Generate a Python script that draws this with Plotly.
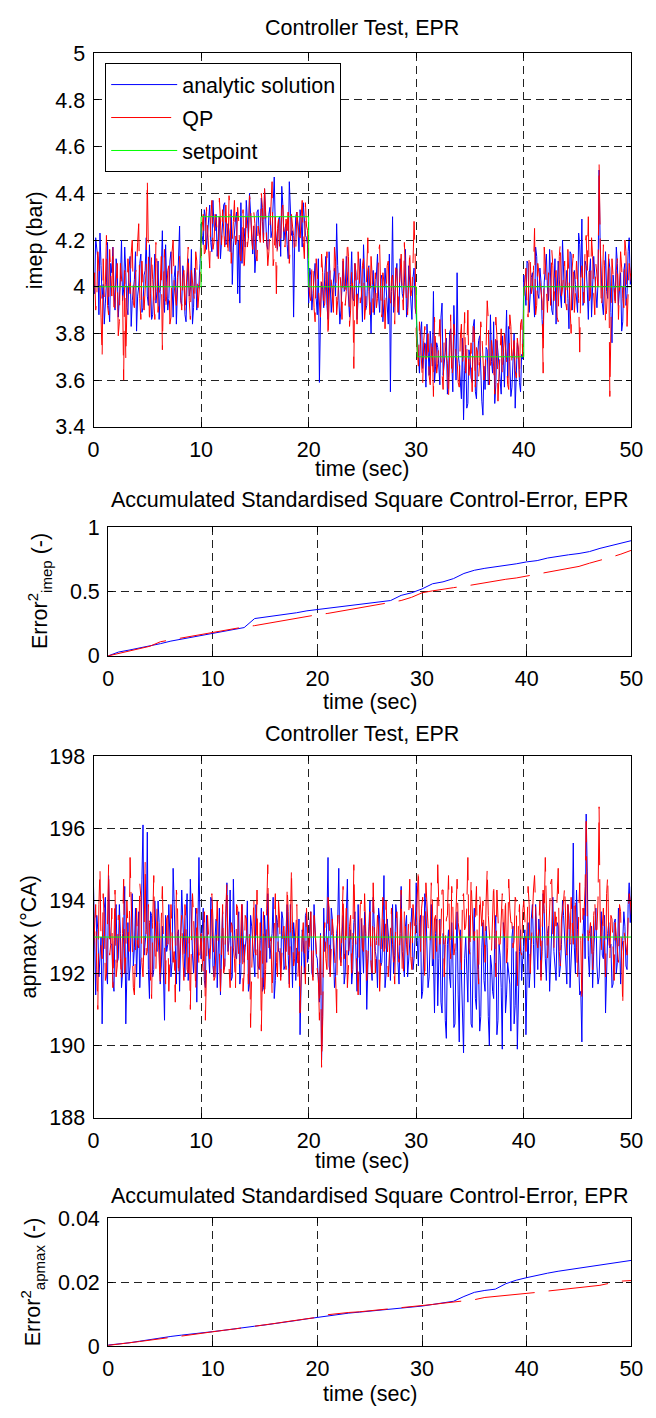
import numpy as np
import plotly.graph_objects as go

W, H = 656, 1418

# ---------------- data ----------------
# samples every 0.1 s: "even" samples at 0.0, 0.2, ... 50.0 and "odd" samples at 0.1, 0.3, ... 49.9
time_even = np.round(np.arange(251) * 0.2, 1)
time_odd = np.round(np.arange(250) * 0.2 + 0.1, 1)

imep_setpoint_t = [0, 10, 10, 20, 20, 30, 30.1, 40, 40, 50]
imep_setpoint = [4.0, 4.0, 4.3, 4.3, 4.0, 4.0, 3.7, 3.7, 4.0, 4.0]

imep_analytic_even = [
    4.05, 4.21, 4.12, 4.23, 3.95, 3.84, 4.02, 3.92, 4.10, 4.17,
    3.90, 4.08, 3.97, 4.20, 3.99, 4.06, 3.88, 4.13, 3.94, 4.03,
    3.81, 4.00, 4.14, 3.91, 4.07, 3.96, 4.18, 3.86, 4.04, 3.93,
    4.11, 3.98, 4.24, 3.89, 4.02, 3.95, 4.15, 3.87, 4.09, 3.97,
    4.26, 3.92, 4.05, 3.85, 4.12, 3.99, 3.84, 4.08, 3.90, 4.01,
    4.27, 4.18, 4.30, 4.22, 4.35, 4.15, 4.26, 4.31, 4.20, 4.12,
    4.28, 4.36, 4.19, 4.24, 4.33, 4.17, 4.29, 3.97, 3.93, 4.10,
    4.25, 4.37, 4.21, 4.30, 4.14, 4.06, 4.32, 4.23, 4.38, 4.19,
    4.27, 4.16, 4.34, 4.24, 4.47, 4.20, 4.29, 4.13, 4.35, 4.25,
    4.18, 4.45, 4.22, 3.87, 4.30, 4.26, 4.33, 4.17, 4.28, 4.21,
    3.93, 4.05, 3.97, 4.10, 3.88, 3.59, 4.02, 3.91, 4.13, 3.86,
    4.04, 3.96, 4.08, 4.27, 3.95, 3.90, 4.11, 3.99, 4.03, 3.87,
    4.15, 3.94, 4.06, 3.98, 4.12, 3.85, 4.01, 3.92, 4.09, 3.80,
    4.07, 3.97, 4.14, 3.89, 4.05, 3.93, 4.00, 3.84, 3.55, 4.30,
    3.96, 4.10, 3.88, 4.04, 3.95, 4.16, 3.91, 4.02, 3.86, 4.08,
    3.88, 3.72, 3.80, 3.65, 3.76, 3.84, 3.62, 3.71, 3.98, 3.66,
    3.74, 3.58, 3.93, 3.69, 3.78, 3.61, 3.82, 3.55, 3.73, 4.06,
    3.67, 3.52, 3.43, 3.75, 3.50, 3.70, 3.59, 3.86, 3.52, 3.77,
    3.64, 3.45, 3.56, 3.73, 3.60, 3.68, 3.85, 3.58, 3.72, 3.62,
    3.79, 3.57, 3.90, 3.83, 3.53, 3.66, 3.48, 3.76, 3.59, 3.71,
    4.05, 3.92, 4.10, 3.98, 4.06, 3.87, 4.13, 3.95, 4.02, 3.78,
    4.08, 3.99, 4.16, 3.90, 4.04, 3.84, 4.11, 3.96, 4.20, 3.93,
    4.07, 3.82, 4.14, 3.97, 4.01, 3.89, 4.18, 4.29, 3.94, 4.09,
    3.86, 4.12, 3.98, 4.05, 3.91, 4.50, 4.03, 3.88, 4.15, 3.95,
    4.08, 3.76, 4.00, 4.17, 3.92, 4.06, 3.85, 4.10, 3.97, 4.21, 4.04,
]
imep_analytic_odd = [
    3.97, 4.16, 3.88, 4.09, 4.01, 3.93, 4.19, 3.85, 4.06, 3.99,
    4.12, 3.87, 4.03, 3.94, 4.17, 3.91, 4.08, 3.83, 4.00, 4.15,
    3.96, 4.10, 3.89, 4.05, 4.21, 3.92, 4.02, 3.88, 4.14, 3.98,
    3.86, 4.07, 3.95, 4.18, 3.90, 4.11, 3.97, 4.04, 3.84, 4.13,
    3.94, 4.09, 3.88, 4.02, 3.96, 4.16, 3.91, 4.06, 3.99, 4.10,
    4.22, 4.33, 4.16, 4.28, 4.19, 4.37, 4.24, 4.13, 4.30, 4.21,
    4.35, 4.18, 4.27, 4.15, 4.01, 4.26, 4.32, 4.20, 4.36, 4.23,
    4.17, 4.29, 4.40, 4.19, 4.26, 4.14, 4.33, 4.22, 4.28, 4.42,
    4.18, 4.31, 4.21, 4.37, 4.25, 4.16, 4.30, 4.43, 4.20, 4.27,
    4.12, 4.34, 4.24, 4.19, 4.32, 4.15, 4.29, 4.36, 4.22, 4.18,
    4.08, 3.90, 4.03, 3.95, 4.12, 3.87, 3.99, 4.06, 3.92, 4.15,
    3.89, 4.02, 3.96, 4.09, 3.84, 4.05, 3.98, 4.13, 3.91, 4.01,
    3.95, 4.10, 3.86, 4.04, 3.97, 4.18, 3.90, 4.07, 3.93, 4.00,
    3.88, 4.11, 3.96, 4.03, 3.85, 4.08, 3.94, 4.14, 3.98, 3.89,
    4.06, 3.92, 4.12, 3.97, 4.02, 3.87, 4.09, 3.95, 4.04, 3.91,
    3.78, 3.63, 3.85, 3.70, 3.57, 3.74, 3.81, 3.66, 3.59, 3.76,
    3.68, 3.87, 3.62, 3.72, 3.54, 3.80, 3.67, 3.92, 3.60, 3.71,
    3.56, 3.78, 3.64, 3.48, 3.73, 3.61, 3.83, 3.55, 3.69, 3.79,
    3.51, 3.66, 3.74, 3.58, 3.88, 3.63, 3.50, 3.77, 3.65, 3.54,
    3.71, 3.82, 3.61, 3.68, 3.57, 3.80, 3.64, 3.73, 3.55, 3.69,
    3.99, 4.11, 3.89, 4.04, 3.93, 4.17, 3.97, 4.08, 3.86, 4.02,
    4.14, 3.94, 4.06, 3.88, 4.12, 3.98, 4.03, 3.91, 4.09, 4.00,
    3.95, 4.15, 3.90, 4.07, 3.96, 4.23, 4.04, 3.92, 4.11, 3.99,
    4.06, 3.87, 4.13, 3.95, 4.02, 4.18, 3.93, 4.08, 3.98, 4.12,
    3.89, 4.05, 3.94, 4.10, 3.99, 3.81, 4.07, 3.92, 4.15, 4.01,
]

imep_qp_even = [
    3.98, 3.90, 4.15, 4.02, 3.70, 3.95, 4.22, 3.88, 4.05, 4.18,
    3.93, 4.10, 3.85, 4.03, 3.60, 3.69, 4.12, 3.97, 4.20, 3.91,
    4.08, 4.27, 3.86, 4.03, 3.99, 4.46, 3.84, 4.14, 3.92, 4.19,
    3.89, 4.01, 3.73, 4.16, 3.96, 4.09, 3.87, 4.20, 3.94, 4.04,
    4.13, 3.90, 4.07, 3.98, 4.17, 3.86, 4.02, 3.93, 4.11, 3.97,
    4.20, 4.31, 4.15, 4.26, 4.08, 4.37, 4.19, 4.29, 4.12, 4.24,
    4.33, 4.17, 4.22, 4.39, 4.10, 4.28, 4.18, 4.34, 4.14, 4.25,
    4.06, 4.30, 4.21, 4.36, 4.16, 4.27, 4.11, 4.23, 4.40, 4.19,
    4.32, 4.09, 4.26, 4.45, 4.13, 3.97, 4.29, 4.20, 4.35, 4.17,
    4.24, 4.10, 4.31, 4.22, 4.15, 4.28, 4.18, 4.37, 4.12, 4.26,
    4.02, 3.94, 4.10, 3.85, 4.06, 3.97, 4.14, 3.90, 4.03, 3.78,
    4.08, 3.96, 4.17, 3.88, 4.05, 3.99, 4.12, 3.92, 4.20, 3.83,
    4.07, 3.65, 4.01, 4.15, 3.93, 4.09, 3.86, 4.04, 3.98, 4.13,
    3.89, 4.06, 3.95, 4.18, 3.87, 4.02, 3.96, 4.11, 3.91, 4.05,
    3.84, 4.09, 3.97, 4.14, 3.90, 4.03, 3.88, 4.16, 3.99, 4.28,
    3.80, 3.66, 3.75, 3.58, 3.83, 3.70, 3.62, 3.78, 3.53, 3.74,
    3.67, 3.86, 3.60, 3.79, 3.71, 3.52, 3.88, 3.65, 3.76, 3.69,
    3.57, 3.84, 3.72, 3.63, 3.90, 3.68, 3.55, 3.81, 3.74, 3.61,
    3.85, 3.70, 3.64, 3.94, 3.58, 3.77, 3.66, 3.87, 3.51, 3.73,
    3.62, 3.80, 3.69, 3.56, 3.83, 3.71, 3.64, 3.78, 3.60, 3.86,
    3.95, 4.08, 3.87, 4.12, 4.00, 4.25, 3.92, 4.06, 3.98, 3.63,
    4.10, 3.89, 4.04, 4.16, 3.94, 4.07, 3.85, 4.19, 3.99, 4.11,
    3.90, 4.05, 3.80, 4.14, 3.97, 4.02, 3.72, 4.09, 3.93, 4.22,
    4.30, 3.96, 4.13, 3.88, 4.06, 4.53, 3.91, 4.18, 3.84, 4.04,
    3.53, 4.12, 3.98, 4.07, 3.86, 4.15, 3.95, 4.20, 3.83, 4.10, 4.02,
]
imep_qp_odd = [
    4.06, 3.94, 4.09, 3.87, 4.12, 4.01, 3.92, 4.16, 3.96, 3.88,
    4.05, 3.79, 4.10, 3.98, 4.07, 3.89, 4.02, 4.14, 3.93, 4.06,
    4.19, 3.95, 4.11, 3.90, 4.08, 4.22, 3.97, 4.03, 3.86, 4.10,
    3.95, 4.13, 3.99, 3.90, 4.07, 3.84, 4.15, 4.00, 3.92, 4.09,
    3.96, 4.04, 3.88, 4.12, 3.94, 4.07, 3.99, 4.15, 3.91, 4.03,
    4.26, 4.14, 4.34, 4.21, 4.29, 4.16, 4.31, 4.23, 4.38, 4.18,
    4.27, 4.35, 4.13, 4.30, 4.22, 4.37, 4.20, 4.28, 4.11, 4.33,
    4.24, 4.17, 4.39, 4.21, 4.32, 4.14, 4.26, 4.19, 4.34, 4.42,
    4.23, 4.15, 4.38, 4.09, 4.30, 4.25, 4.16, 4.33, 4.21, 4.29,
    4.35, 4.18, 4.26, 4.14, 4.32, 4.22, 4.30, 4.19, 4.36, 4.24,
    3.96, 4.09, 3.91, 4.12, 4.00, 3.87, 4.06, 3.93, 4.15, 3.97,
    4.03, 3.89, 4.11, 3.94, 4.08, 3.86, 4.02, 3.98, 4.13, 3.90,
    3.99, 4.10, 3.84, 4.07, 3.96, 4.12, 3.92, 4.21, 3.88, 4.05,
    4.00, 3.91, 4.15, 3.97, 4.06, 3.82, 4.09, 3.95, 4.03, 3.93,
    4.11, 3.89, 4.07, 3.98, 4.19, 3.92, 4.04, 3.96, 4.10, 4.14,
    3.72, 3.85, 3.64, 3.77, 3.69, 3.80, 3.58, 3.73, 3.87, 3.63,
    3.79, 3.70, 3.56, 3.82, 3.67, 3.75, 3.61, 3.84, 3.71, 3.59,
    3.78, 3.66, 3.89, 3.70, 3.62, 3.76, 3.83, 3.57, 3.72, 3.68,
    3.80, 3.60, 3.75, 3.86, 3.65, 3.71, 3.54, 3.79, 3.63, 3.82,
    3.69, 3.74, 3.58, 3.88, 3.66, 3.77, 3.61, 3.73, 3.84, 3.70,
    4.03, 3.91, 4.14, 3.97, 4.07, 3.88, 4.10, 4.01, 3.94, 4.17,
    3.99, 4.06, 3.92, 4.09, 4.02, 3.87, 4.13, 3.96, 4.05, 3.93,
    4.16, 3.98, 4.08, 3.89, 4.11, 3.95, 4.04, 3.99, 4.18, 4.07,
    3.94, 4.21, 3.97, 4.10, 4.00, 4.28, 3.96, 4.09, 3.90, 4.14,
    3.78, 4.05, 3.93, 4.12, 3.99, 4.08, 3.91, 4.15, 3.97, 4.06,
]

apmax_setpoint_t = [0, 50]
apmax_setpoint = [193.0, 193.0]

apmax_analytic_even = [
    194.4, 191.4, 193.2, 192.5, 190.6, 193.8, 192.0, 194.7, 192.8, 191.8,
    193.5, 192.3, 193.9, 191.6, 192.9, 190.6, 193.4, 192.2, 194.2, 192.7,
    191.9, 193.7, 192.4, 196.1, 192.8, 195.9, 191.3, 193.6, 192.1, 193.0,
    194.0, 191.7, 193.3, 190.7, 192.6, 193.9, 191.9, 194.9, 192.3, 193.1,
    191.5, 194.3, 192.7, 193.5, 191.8, 194.6, 192.5, 193.2, 191.2, 195.2,
    192.4, 193.8, 191.6, 193.1, 192.0, 194.0, 191.9, 193.5, 192.6, 191.4,
    193.7, 192.2, 194.5, 192.9, 191.8, 194.6, 192.5, 193.3, 191.7, 193.9,
    192.3, 193.0, 191.5, 193.6, 192.7, 191.9, 193.4, 192.1, 193.8, 191.6,
    192.8, 194.2, 192.4, 193.1, 191.3, 193.6, 192.6, 191.9, 193.5, 192.2,
    193.9, 191.7, 192.9, 193.4, 191.8, 192.5, 190.3, 193.2, 192.0, 193.7,
    192.6, 193.7, 191.9, 193.2, 192.4, 191.2, 189.6, 193.8, 192.7, 195.2,
    192.0, 193.5, 191.6, 193.1, 194.9, 192.3, 193.6, 192.0, 194.6, 192.8,
    191.7, 193.4, 192.5, 193.9, 191.4, 192.9, 193.7, 191.0, 193.3, 192.2,
    194.1, 192.6, 191.6, 193.5, 192.3, 194.7, 192.0, 193.2, 191.8, 193.9,
    192.5, 193.6, 191.7, 194.4, 192.1, 193.3, 191.9, 192.8, 193.8, 192.4,
    194.5, 192.2, 193.6, 191.5, 194.2, 192.7, 191.9, 193.9, 192.4, 193.1,
    191.1, 193.5, 190.9, 192.8, 190.2, 193.2, 191.6, 192.5, 190.6, 193.7,
    190.1, 192.3, 189.8, 193.0, 191.2, 192.6, 190.5, 193.8, 191.0, 192.1,
    190.8, 193.4, 191.5, 192.7, 190.0, 192.2, 191.3, 193.6, 190.7, 192.5,
    189.9, 193.1, 191.4, 192.0, 190.4, 193.3, 191.1, 189.9, 192.6, 191.8,
    192.8, 190.3, 193.4, 192.1, 193.9, 191.6, 192.7, 193.5, 191.9, 194.2,
    192.4, 193.1, 191.5, 193.7, 192.6, 191.8, 193.3, 192.2, 194.0, 192.9,
    191.7, 193.6, 192.3, 195.6, 192.0, 193.2, 191.4, 190.1, 193.8, 196.4,
    192.5, 193.0, 191.6, 193.5, 192.2, 191.9, 193.7, 192.4, 190.9, 193.1,
    192.7, 191.6, 193.4, 192.0, 193.8, 191.7, 192.9, 193.3, 192.1, 194.5, 194.4,
]
apmax_analytic_odd = [
    192.3, 193.6, 191.9, 193.0, 192.6, 194.1, 191.7, 193.3, 192.8, 191.5,
    193.9, 192.4, 193.1, 192.0, 194.4, 192.7, 191.8, 193.5, 192.2, 193.8,
    192.9, 191.6, 194.6, 192.5, 193.2, 192.1, 193.7, 191.9, 194.0, 192.6,
    193.4, 192.2, 191.4, 193.6, 192.8, 193.0, 192.3, 193.9, 191.7, 193.2,
    192.6, 193.5, 191.9, 194.2, 192.4, 193.1, 192.0, 193.8, 192.7, 193.3,
    193.1, 191.8, 193.6, 192.5, 194.1, 192.2, 193.0, 191.6, 193.8, 192.8,
    192.1, 193.4, 192.6, 194.3, 191.9, 193.2, 192.4, 193.7, 192.0, 193.1,
    192.7, 194.0, 191.7, 193.3, 192.5, 193.9, 192.2, 192.9, 191.5, 193.6,
    192.3, 193.0, 192.8, 194.1, 191.8, 193.4, 192.6, 193.7, 192.1, 193.2,
    192.5, 193.9, 191.6, 193.0, 192.7, 193.5, 191.4, 192.9, 193.6, 192.3,
    193.3, 192.0, 193.9, 192.5, 191.8, 193.1, 190.8, 192.6, 193.5, 192.2,
    193.8, 192.7, 191.9, 193.4, 192.4, 193.0, 191.7, 193.6, 192.5, 193.2,
    192.1, 193.7, 191.5, 192.9, 193.5, 192.0, 193.1, 192.6, 194.0, 191.8,
    193.3, 192.4, 193.8, 192.2, 193.0, 191.6, 193.5, 192.7, 193.2, 192.0,
    193.9, 192.3, 193.1, 192.6, 191.9, 193.6, 192.4, 193.3, 192.1, 193.0,
    192.9, 193.4, 191.3, 192.7, 193.8, 191.6, 193.0, 192.2, 190.9, 193.5,
    192.4, 191.2, 193.1, 190.7, 192.8, 191.9, 193.4, 190.5, 192.6, 191.4,
    193.2, 190.9, 192.4, 191.7, 193.6, 190.6, 192.9, 191.3, 193.0, 190.4,
    192.7, 191.8, 193.3, 190.8, 192.5, 191.5, 193.1, 190.3, 192.8, 191.6,
    193.4, 190.9, 192.3, 191.7, 193.0, 190.6, 192.6, 191.9, 193.2, 192.4,
    193.2, 192.4, 191.6, 193.5, 192.8, 193.9, 192.1, 193.0, 192.6, 193.7,
    191.8, 193.3, 192.5, 194.1, 192.0, 193.4, 191.9, 192.8, 193.6, 192.3,
    193.9, 191.6, 193.1, 192.7, 194.3, 192.2, 191.5, 193.0, 192.4, 194.8,
    191.9, 193.3, 192.6, 193.8, 191.7, 193.1, 192.5, 193.6, 192.0, 193.4,
    192.8, 191.7, 193.5, 192.3, 193.0, 192.6, 193.7, 192.2, 193.9, 193.4,
]

apmax_qp_even = [
    192.6, 193.9, 191.0, 194.9, 192.4, 193.5, 192.0, 195.0, 192.8, 191.6,
    194.3, 192.2, 193.6, 191.8, 194.6, 192.5, 193.1, 195.2, 192.3, 191.4,
    193.8, 192.7, 194.1, 191.9, 195.1, 192.6, 193.4, 191.3, 194.7, 192.1,
    193.2, 191.7, 194.4, 192.8, 193.5, 191.5, 193.9, 192.3, 191.2, 194.0,
    192.5, 193.6, 191.8, 193.3, 192.0, 191.0, 194.2, 192.7, 193.8, 192.2,
    193.1, 192.0, 190.7, 193.6, 192.4, 194.2, 191.8, 193.3, 192.6, 191.5,
    193.9, 192.2, 194.5, 191.9, 193.4, 192.7, 191.6, 193.8, 192.3, 194.1,
    192.0, 193.5, 191.7, 190.5, 193.2, 192.6, 194.3, 191.9, 190.4, 193.7,
    192.1, 195.0, 192.8, 191.4, 193.6, 192.3, 194.0, 191.8, 193.1, 192.5,
    194.4, 191.6, 194.9, 192.2, 193.4, 191.9, 190.9, 193.0, 192.4, 193.8,
    192.5, 193.7, 191.8, 193.2, 192.1, 190.7, 189.4, 193.0, 192.4, 194.1,
    191.9, 193.5, 192.6, 190.9, 193.8, 192.2, 194.4, 192.8, 191.6, 193.3,
    192.0, 195.0, 192.5, 191.4, 193.9, 192.7, 194.2, 191.8, 193.1, 192.3,
    194.5, 192.0, 193.6, 191.5, 193.2, 192.6, 194.0, 191.9, 193.4, 192.8,
    191.7, 193.7, 192.3, 194.3, 191.9, 193.1, 192.5, 194.6, 192.1, 193.5,
    193.4, 194.9, 192.6, 194.1, 191.8, 193.7, 192.9, 194.5, 192.2, 193.6,
    195.0, 192.8, 194.3, 191.9, 193.5, 194.7, 192.4, 193.9, 192.7, 194.6,
    193.1, 192.0, 194.2, 193.3, 195.2, 192.5, 193.8, 192.9, 194.4, 191.7,
    193.6, 194.0, 192.3, 194.9, 193.2, 192.6, 194.5, 191.9, 193.7, 192.8,
    194.2, 193.0, 192.1, 194.6, 193.4, 192.7, 194.1, 191.6, 193.9, 192.5,
    194.0, 192.6, 194.4, 192.0, 193.8, 194.7, 192.9, 193.5, 191.8, 194.3,
    195.2, 192.4, 193.9, 194.6, 192.7, 193.3, 194.9, 192.2, 193.7, 194.4,
    192.5, 193.1, 194.1, 192.8, 193.9, 191.9, 194.5, 191.2, 193.6, 196.2,
    192.9, 193.4, 192.1, 194.0, 193.2, 196.6, 192.6, 193.8, 191.9, 194.7,
    192.4, 193.5, 191.8, 193.1, 192.3, 193.7, 191.1, 193.0, 192.5, 194.2, 193.6,
]
apmax_qp_odd = [
    193.4, 192.1, 193.9, 192.7, 194.2, 191.8, 193.3, 192.5, 193.8, 192.9,
    191.9, 193.6, 192.4, 193.1, 192.0, 194.0, 192.6, 193.7, 191.6, 193.2,
    192.8, 194.5, 192.3, 193.0, 192.5, 193.9, 191.8, 193.4, 192.7, 193.8,
    192.2, 193.5, 192.9, 191.7, 193.6, 192.4, 193.1, 192.6, 194.3, 191.9,
    193.3, 192.5, 193.9, 192.1, 193.0, 192.8, 193.6, 191.5, 193.2, 192.6,
    192.4, 193.7, 192.1, 193.0, 192.8, 193.5, 191.9, 194.0, 192.6, 193.2,
    192.0, 193.8, 192.7, 191.6, 193.3, 192.4, 193.9, 192.2, 193.1, 191.5,
    193.6, 192.8, 193.2, 192.0, 194.1, 192.5, 191.8, 193.4, 192.7, 191.3,
    193.8, 192.6, 193.0, 192.3, 194.2, 191.9, 193.5, 192.7, 193.3, 192.1,
    193.7, 192.9, 193.2, 192.4, 193.9, 192.6, 192.0, 193.4, 191.7, 193.1,
    193.0, 192.3, 193.6, 192.7, 191.9, 193.2, 190.6, 193.4, 192.1, 193.8,
    192.5, 193.1, 192.0, 193.7, 192.9, 193.3, 192.4, 193.8, 192.2, 193.6,
    192.8, 193.4, 192.1, 193.0, 194.0, 192.6, 193.3, 192.4, 193.7, 192.0,
    193.5, 192.9, 193.2, 192.3, 194.1, 192.7, 193.0, 192.5, 193.8, 192.2,
    193.4, 192.6, 193.1, 192.0, 193.7, 192.8, 193.3, 192.4, 193.9, 193.0,
    194.2, 193.1, 193.8, 192.7, 194.5, 193.3, 192.9, 194.0, 193.5, 192.6,
    193.9, 193.2, 194.3, 192.8, 193.6, 193.0, 194.4, 192.5, 193.7, 193.4,
    192.9, 194.1, 193.2, 193.8, 192.7, 194.6, 193.0, 193.5, 192.4, 194.2,
    193.3, 192.9, 194.0, 193.6, 192.6, 193.9, 193.1, 194.3, 192.8, 193.5,
    193.2, 194.1, 192.7, 193.8, 193.4, 192.9, 194.0, 193.3, 192.6, 193.7,
    193.5, 193.2, 193.9, 192.8, 194.3, 193.4, 192.7, 194.0, 193.1, 193.6,
    193.8, 193.0, 194.5, 192.9, 193.7, 194.2, 192.6, 193.5, 194.0, 193.2,
    193.9, 192.8, 193.4, 194.1, 192.7, 193.6, 192.9, 193.8, 194.4, 193.5,
    193.1, 192.8, 193.6, 193.2, 194.0, 193.5, 193.3, 192.9, 194.2, 193.0,
    193.6, 192.7, 193.4, 192.6, 193.9, 192.4, 193.2, 192.8, 193.5, 194.0,
]

acc_t = list(range(51))
acc_imep_analytic = [
    0.000, 0.030, 0.045, 0.060, 0.075, 0.095, 0.115, 0.130, 0.145, 0.160,
    0.170, 0.190, 0.205, 0.220, 0.290, 0.300, 0.310, 0.320, 0.335, 0.350,
    0.360, 0.370, 0.380, 0.395, 0.400, 0.410, 0.420, 0.430, 0.470, 0.490,
    0.520, 0.560, 0.575, 0.600, 0.640, 0.665, 0.680, 0.690, 0.700, 0.715,
    0.730, 0.740, 0.760, 0.775, 0.785, 0.795, 0.810, 0.835, 0.855, 0.875, 0.895,
]
acc_imep_qp = [
    0.000, 0.020, 0.035, 0.055, 0.075, 0.110, 0.125, 0.140, 0.155, 0.165,
    0.180, 0.195, 0.210, 0.225, 0.235, 0.250, 0.265, 0.280, 0.295, 0.310,
    0.320, 0.330, 0.345, 0.355, 0.370, 0.390, 0.405, 0.420, 0.430, 0.455,
    0.490, 0.505, 0.520, 0.530, 0.540, 0.555, 0.570, 0.580, 0.595, 0.605,
    0.620, 0.630, 0.645, 0.660, 0.675, 0.695, 0.720, 0.740, 0.765, 0.790, 0.820,
]
acc_apmax_analytic = [
    0.0003, 0.0006, 0.0010, 0.0015, 0.0020, 0.0027, 0.0030, 0.0034, 0.0037, 0.0041,
    0.0045, 0.0049, 0.0054, 0.0058, 0.0062, 0.0066, 0.0070, 0.0075, 0.0080, 0.0085,
    0.0090, 0.0095, 0.0099, 0.0103, 0.0106, 0.0109, 0.0112, 0.0115, 0.0118, 0.0121,
    0.0125, 0.0130, 0.0134, 0.0140, 0.0155, 0.0168, 0.0174, 0.0178, 0.0195, 0.0206,
    0.0214, 0.0222, 0.0228, 0.0234, 0.0239, 0.0244, 0.0249, 0.0254, 0.0259, 0.0264, 0.0268,
]
acc_apmax_qp = [
    0.0002, 0.0005, 0.0010, 0.0014, 0.0019, 0.0024, 0.0027, 0.0031, 0.0036, 0.0041,
    0.0045, 0.0049, 0.0053, 0.0057, 0.0061, 0.0066, 0.0071, 0.0076, 0.0080, 0.0085,
    0.0090, 0.0098, 0.0102, 0.0105, 0.0107, 0.0110, 0.0113, 0.0116, 0.0119, 0.0122,
    0.0126, 0.0130, 0.0134, 0.0137, 0.0141, 0.0145, 0.0152, 0.0155, 0.0157, 0.0160,
    0.0165, 0.0168, 0.0172, 0.0176, 0.0178, 0.0183, 0.0186, 0.0190, 0.0197, 0.0203, 0.0205,
]

x_ticks = [0, 10, 20, 30, 40, 50]
imep_ticks = [3.4, 3.6, 3.8, 4.0, 4.2, 4.4, 4.6, 4.8, 5.0]
imep_ticktext = ["3.4", "3.6", "3.8", "4", "4.2", "4.4", "4.6", "4.8", "5"]
acc_imep_ticks = [0, 0.5, 1]
acc_imep_ticktext = ["0", "0.5", "1"]
apmax_ticks = [188, 190, 192, 194, 196, 198]
acc_apmax_ticks = [0, 0.02, 0.04]
acc_apmax_ticktext = ["0", "0.02", "0.04"]


def merge(even, odd):
    """interleave the even (0.0, 0.2, ...) and odd (0.1, 0.3, ...) samples"""
    out = np.empty(len(even) + len(odd))
    out[0::2] = even
    out[1::2] = odd
    return out


time = merge(time_even, time_odd)
imep_analytic = merge(imep_analytic_even, imep_analytic_odd)
imep_qp = merge(imep_qp_even, imep_qp_odd)
apmax_analytic = merge(apmax_analytic_even, apmax_analytic_odd)
apmax_qp = merge(apmax_qp_even, apmax_qp_odd)

# ---------------- style ----------------
FONT = "Liberation Sans, Arial, Helvetica, sans-serif"
FS = 21.5
BLUE, RED, GREEN = "#0000FF", "#FF0000", "#00FF00"
RED_DASH = "60px,14px"


def py(p):
    return 1 - p / H


def px(p):
    return p / W


fig = go.Figure()

# subplot 1 : imep
fig.add_trace(go.Scatter(x=time, y=imep_analytic, mode="lines", name="analytic solution",
                         legendgroup="a", line=dict(color=BLUE, width=1), xaxis="x", yaxis="y"))
fig.add_trace(go.Scatter(x=time, y=imep_qp, mode="lines", name="QP", legendgroup="b",
                         line=dict(color=RED, width=1, dash=RED_DASH), xaxis="x", yaxis="y"))
fig.add_trace(go.Scatter(x=imep_setpoint_t, y=imep_setpoint, mode="lines", name="setpoint",
                         legendgroup="c", line=dict(color=GREEN, width=1), xaxis="x", yaxis="y"))
# subplot 2 : accumulated error imep
fig.add_trace(go.Scatter(x=acc_t, y=acc_imep_analytic, mode="lines", showlegend=False,
                         line=dict(color=BLUE, width=1), xaxis="x2", yaxis="y2"))
fig.add_trace(go.Scatter(x=acc_t, y=acc_imep_qp, mode="lines", showlegend=False,
                         line=dict(color=RED, width=1, dash=RED_DASH), xaxis="x2", yaxis="y2"))
# subplot 3 : apmax
fig.add_trace(go.Scatter(x=time, y=apmax_analytic, mode="lines", showlegend=False,
                         line=dict(color=BLUE, width=1), xaxis="x3", yaxis="y3"))
fig.add_trace(go.Scatter(x=time, y=apmax_qp, mode="lines", showlegend=False,
                         line=dict(color=RED, width=1, dash=RED_DASH), xaxis="x3", yaxis="y3"))
fig.add_trace(go.Scatter(x=apmax_setpoint_t, y=apmax_setpoint, mode="lines", showlegend=False,
                         line=dict(color=GREEN, width=1), xaxis="x3", yaxis="y3"))
# subplot 4 : accumulated error apmax
fig.add_trace(go.Scatter(x=acc_t, y=acc_apmax_analytic, mode="lines", showlegend=False,
                         line=dict(color=BLUE, width=1), xaxis="x4", yaxis="y4"))
fig.add_trace(go.Scatter(x=acc_t, y=acc_apmax_qp, mode="lines", showlegend=False,
                         line=dict(color=RED, width=1, dash=RED_DASH), xaxis="x4", yaxis="y4"))


def axis(domain, anchor, rng, tickvals, ticktext=None):
    d = dict(domain=domain, anchor=anchor, range=rng, tickmode="array", tickvals=tickvals,
             showline=True, mirror="ticks", linecolor="black", linewidth=1,
             ticks="inside", ticklen=5, tickcolor="black", tickwidth=1,
             showgrid=True, gridcolor="#222222", griddash="8px,5px", gridwidth=1,
             zeroline=False, tickfont=dict(size=FS, color="black", family=FONT),
             fixedrange=True, ticklabelstandoff=3)
    if ticktext is not None:
        d["ticktext"] = ticktext
    return d


xd_wide = [px(90), px(643)]
xd_narrow = [px(105), px(643)]

fig.update_layout(
    width=W, height=H, autosize=False,
    margin=dict(l=0, r=0, t=0, b=0),
    paper_bgcolor="white", plot_bgcolor="white",
    font=dict(family=FONT, size=FS, color="black"),
    xaxis=axis(xd_wide, "y", [0, 50], x_ticks),
    yaxis=axis([py(423), py(43)], "x", [3.4, 5.0], imep_ticks, imep_ticktext),
    xaxis2=axis(xd_narrow, "y2", [0, 50], x_ticks),
    yaxis2=axis([py(656), py(525)], "x2", [0, 1], acc_imep_ticks, acc_imep_ticktext),
    xaxis3=axis(xd_wide, "y3", [0, 50], x_ticks),
    yaxis3=axis([py(1126), py(758)], "x3", [188, 198], apmax_ticks),
    xaxis4=axis(xd_narrow, "y4", [0, 50], x_ticks),
    yaxis4=axis([py(1358), py(1228)], "x4", [0, 0.04], acc_apmax_ticks, acc_apmax_ticktext),
    legend=dict(x=px(102), y=py(53), xanchor="left", yanchor="top",
                bgcolor="white", bordercolor="black", borderwidth=1,
                font=dict(size=FS, family=FONT, color="black"),
                itemwidth=66, tracegroupgap=2, traceorder="grouped",
                entrywidth=170, entrywidthmode="pixels"),
    showlegend=True,
)

ann = []


def text(x, y, s, angle=0):
    ann.append(dict(x=px(x), y=py(y), xref="paper", yref="paper", text=s, showarrow=False,
                    xanchor="center", yanchor="middle", textangle=angle,
                    font=dict(size=FS, family=FONT, color="black")))


cx_w = (90 + 643) / 2
cx_n = (105 + 643) / 2
text(cx_w, 17, "Controller Test, EPR")
text(cx_w, 466, "time (sec)")
text(30, 233, "imep (bar)", -90)
text(cx_n, 497, "Accumulated Standardised Square Control-Error, EPR")
text(cx_n, 703, "time (sec)")
text(34, 590, "Error<sup>2</sup><sub>imep</sub> (-)", -90)
text(cx_w, 735, "Controller Test, EPR")
text(cx_w, 1170, "time (sec)")
text(24, 942, "apmax (°CA)", -90)
text(cx_n, 1205, "Accumulated Standardised Square Control-Error, EPR")
text(cx_n, 1407, "time (sec)")
text(27, 1293, "Error<sup>2</sup><sub>apmax</sub> (-)", -90)
fig.update_layout(annotations=ann)

fig.write_html(
    "out.html",
    config={"displayModeBar": False},
    post_script="document.body.style.margin='0';document.body.style.padding='0';"
                "document.documentElement.style.overflow='hidden';",
)
